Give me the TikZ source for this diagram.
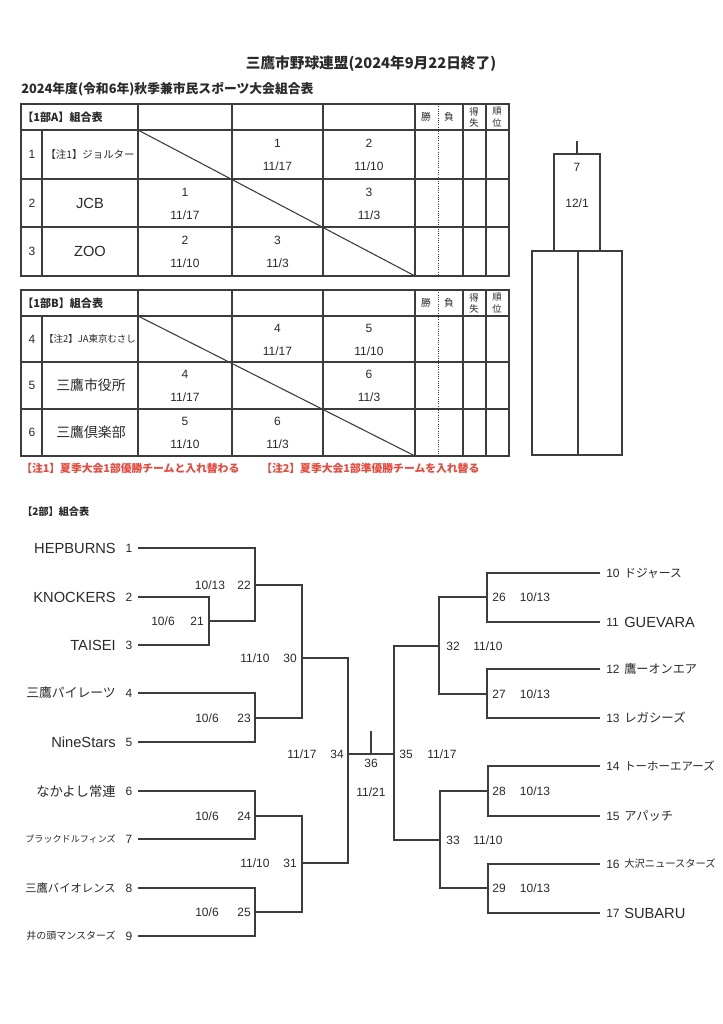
\documentclass[tikz,border=0pt]{standalone}
\usepackage{fontspec}
\setmainfont{Liberation Sans}
\newfontfamily\jp{Noto Sans CJK JP}
\newcommand\myfs[1]{\fontsize{#1}{#1}\selectfont}
\definecolor{ink}{HTML}{2A2A2A}
\definecolor{lnc}{HTML}{3C3C3C}
\definecolor{notered}{HTML}{E8493C}
\tikzset{
  lbl/.style={inner sep=0pt, text=ink},
  num/.style={lbl, font=\myfs{9}},
  jpt/.style={lbl, font=\jp\myfs{#1}},
  ent/.style={lbl, font=\myfs{11}},
  tb/.style={draw=lnc, line width=0.8pt},
  br/.style={draw=lnc, line width=0.9pt},
  hd/.style={lbl, font=\jp\bfseries\myfs{#1}},
}
\begin{document}
\begin{tikzpicture}[x=0.75pt,y=-0.75pt]
\fill[white] (0,0) rectangle (722,1024);
\useasboundingbox (0,0) rectangle (722,1024);

% titles
\node[hd=11] (title) at (371,64) {三鷹市野球連盟(2024年9月22日終了)};
\node[hd=9.6, anchor=west] (subtitle) at (21,89) {2024年度(令和6年)秋季兼市民スポーツ大会組合表};

% ===== Table A =====
\draw[tb] (21,104) rectangle (509,276);
\foreach \yy in {130,179,227} \draw[tb] (21,\yy) -- (509,\yy);
\draw[tb] (42,130) -- (42,276);
\foreach \xx in {138,232,323,415,463,486} \draw[tb] (\xx,104) -- (\xx,276);
\draw[lnc, line width=0.7pt, densely dotted] (438,104) -- (438,276);
\draw[tb] (138,130) -- (415,276);
\node[hd=8.3, anchor=west] (ahead) at (22,117) {【1部A】組合表};
\node[jpt=7.3] (awin) at (426,117) {勝};
\node[jpt=7.3] (alose) at (449,117) {負};
\node[jpt=7] (atok1) at (474,111.5) {得};
\node[jpt=7] (atok2) at (474,123) {失};
\node[jpt=7] (ajun1) at (497,111.5) {順};
\node[jpt=7] (ajun2) at (497,123) {位};
\node[num] (ar1) at (32,154.5) {1};
\node[num] (ar2) at (32,203) {2};
\node[num] (ar3) at (32,251.5) {3};
\node[jpt=7.8] (an1) at (90,154.5) {【注1】ジョルター};
\node[ent] (an2) at (90,203) {JCB};
\node[ent] (an3) at (90,251.5) {ZOO};
\node[num] (a12n) at (277.5,143) {1};  \node[num] (a12d) at (277.5,166) {11/17};
\node[num] (a13n) at (369,143) {2};    \node[num] (a13d) at (369,166) {11/10};
\node[num] (a21n) at (185,192) {1};    \node[num] (a21d) at (185,215) {11/17};
\node[num] (a23n) at (369,192) {3};    \node[num] (a23d) at (369,215) {11/3};
\node[num] (a31n) at (185,240) {2};    \node[num] (a31d) at (185,263) {11/10};
\node[num] (a32n) at (277.5,240) {3};  \node[num] (a32d) at (277.5,263) {11/3};

% ===== Table B =====
\draw[tb] (21,290) rectangle (509,456);
\foreach \yy in {316,362,409} \draw[tb] (21,\yy) -- (509,\yy);
\draw[tb] (42,316) -- (42,456);
\foreach \xx in {138,232,323,415,463,486} \draw[tb] (\xx,290) -- (\xx,456);
\draw[lnc, line width=0.7pt, densely dotted] (438,290) -- (438,456);
\draw[tb] (138,316) -- (415,456);
\node[hd=8.3, anchor=west] (bhead) at (22,303) {【1部B】組合表};
\node[jpt=7.3] (bwin) at (426,303) {勝};
\node[jpt=7.3] (blose) at (449,303) {負};
\node[jpt=7] (btok1) at (474,297.5) {得};
\node[jpt=7] (btok2) at (474,309) {失};
\node[jpt=7] (bjun1) at (497,297.5) {順};
\node[jpt=7] (bjun2) at (497,309) {位};
\node[num] (br1) at (32,339) {4};
\node[num] (br2) at (32,385.5) {5};
\node[num] (br3) at (32,432.5) {6};
\node[jpt=7.1] (bn1) at (90,339) {【注2】JA東京むさし};
\node[jpt=10.4] (bn2) at (91,385.5) {三鷹市役所};
\node[jpt=10.4] (bn3) at (91,432.5) {三鷹倶楽部};
\node[num] (b12n) at (277.5,328) {4};  \node[num] (b12d) at (277.5,351) {11/17};
\node[num] (b13n) at (369,328) {5};    \node[num] (b13d) at (369,351) {11/10};
\node[num] (b21n) at (185,374) {4};    \node[num] (b21d) at (185,397) {11/17};
\node[num] (b23n) at (369,374) {6};    \node[num] (b23d) at (369,397) {11/3};
\node[num] (b31n) at (185,421) {5};    \node[num] (b31d) at (185,444) {11/10};
\node[num] (b32n) at (277.5,421) {6};  \node[num] (b32d) at (277.5,444) {11/3};

% notes
\node[lbl, text=notered, font=\jp\bfseries\myfs{8.1}, anchor=west] (note1) at (21,468) {【注1】夏季大会1部優勝チームと入れ替わる};
\node[lbl, text=notered, font=\jp\bfseries\myfs{8.1}, anchor=west] (note2) at (261,468) {【注2】夏季大会1部準優勝チームを入れ替る};

% ===== final box (1部) =====
\coordinate (ftop) at (577,141);
\coordinate (fbox) at (577,154);
\draw[tb] (ftop) -- (fbox);
\draw[tb] (554,154) rectangle (600,251);
\draw[tb] (532,251) rectangle (622,455);
\draw[tb] (578,251) -- (578,455);
\node[num] (f7) at (577,167) {7};
\node[num] (fdate) at (577,203) {12/1};

% ===== 2部 =====
\node[hd=7.6, anchor=west] (sec2) at (22,512) {【2部】組合表};

% leaves left
\coordinate (t1) at (138,548);
\coordinate (t2) at (138,597);
\coordinate (t3) at (138,645);
\coordinate (t4) at (138,693);
\coordinate (t5) at (138,742);
\coordinate (t6) at (138,791);
\coordinate (t7) at (138,839);
\coordinate (t8) at (138,888);
\coordinate (t9) at (138,936);
% matches left
\coordinate (m21) at (209,621);
\coordinate (m22) at (255,585);
\coordinate (m23) at (255,718);
\coordinate (m24) at (255,816);
\coordinate (m25) at (255,912);
\coordinate (m30) at (302,658);
\coordinate (m31) at (302,863);
\coordinate (m34) at (348,754);
% leaves right
\coordinate (r10) at (600,573);
\coordinate (r11) at (600,622);
\coordinate (r12) at (600,669);
\coordinate (r13) at (600,718);
\coordinate (r14) at (600,766);
\coordinate (r15) at (600,816);
\coordinate (r16) at (600,864);
\coordinate (r17) at (600,913);
% matches right
\coordinate (m26) at (487,597);
\coordinate (m27) at (487,694);
\coordinate (m28) at (488,791);
\coordinate (m29) at (488,888);
\coordinate (m32) at (439,646);
\coordinate (m33) at (440,840);
\coordinate (m35) at (394,754);
\coordinate (m36) at (371,754);
\coordinate (m36top) at (371,731);

\draw[br] (t2) -| (m21) |- (t3);
\draw[br] (t1) -| (m22) |- (m21);
\draw[br] (t4) -| (m23) |- (t5);
\draw[br] (m22) -| (m30) |- (m23);
\draw[br] (t6) -| (m24) |- (t7);
\draw[br] (t8) -| (m25) |- (t9);
\draw[br] (m24) -| (m31) |- (m25);
\draw[br] (m30) -| (m34) |- (m31);
\draw[br] (r10) -| (m26) |- (r11);
\draw[br] (r12) -| (m27) |- (r13);
\draw[br] (m26) -| (m32) |- (m27);
\draw[br] (r14) -| (m28) |- (r15);
\draw[br] (r16) -| (m29) |- (r17);
\draw[br] (m28) -| (m33) |- (m29);
\draw[br] (m32) -| (m35) |- (m33);
\draw[br] (m34) -- (m35);
\draw[br] (m36) -- (m36top);

% left team names
\node[ent, anchor=east] (n1) at (116,548) {HEPBURNS};
\node[ent, anchor=east] (n2) at (116,597) {KNOCKERS};
\node[ent, anchor=east] (n3) at (116,645) {TAISEI};
\node[jpt=9.6, anchor=east] (n4) at (116,693) {三鷹パイレーツ};
\node[ent, anchor=east] (n5) at (116,742) {NineStars};
\node[jpt=10, anchor=east] (n6) at (116,791) {なかよし常連};
\node[jpt=6.8, anchor=east] (n7) at (116,839) {ブラックドルフィンズ};
\node[jpt=8.5, anchor=east] (n8) at (116,888) {三鷹バイオレンス};
\node[jpt=7.5, anchor=east] (n9) at (116,936) {井の頭マンスターズ};
\node[num] (k1) at (129,548) {1};
\node[num] (k2) at (129,597) {2};
\node[num] (k3) at (129,645) {3};
\node[num] (k4) at (129,693) {4};
\node[num] (k5) at (129,742) {5};
\node[num] (k6) at (129,791) {6};
\node[num] (k7) at (129,839) {7};
\node[num] (k8) at (129,888) {8};
\node[num] (k9) at (129,936) {9};

% right team names
\node[num, anchor=west] (k10) at (606,573) {10};
\node[num, anchor=west] (k11) at (606,622) {11};
\node[num, anchor=west] (k12) at (606,669) {12};
\node[num, anchor=west] (k13) at (606,718) {13};
\node[num, anchor=west] (k14) at (606,766) {14};
\node[num, anchor=west] (k15) at (606,816) {15};
\node[num, anchor=west] (k16) at (606,864) {16};
\node[num, anchor=west] (k17) at (606,913) {17};
\node[jpt=8.8, anchor=west] (n10) at (624,573) {ドジャース};
\node[ent, anchor=west] (n11) at (624,622) {GUEVARA};
\node[jpt=9.1, anchor=west] (n12) at (624,669) {鷹ーオンエア};
\node[jpt=9.3, anchor=west] (n13) at (624,718) {レガシーズ};
\node[jpt=8.6, anchor=west] (n14) at (624,766) {トーホーエアーズ};
\node[jpt=9.2, anchor=west] (n15) at (624,816) {アパッチ};
\node[jpt=7.7, anchor=west] (n16) at (624,864) {大沢ニュースターズ};
\node[ent, anchor=west] (n17) at (624,913) {SUBARU};

% match labels left
\node[num] (d21) at (163,621) {10/6};   \node[num] (g21) at (197,621) {21};
\node[num] (d22) at (210,585) {10/13};  \node[num] (g22) at (244,585) {22};
\node[num] (d23) at (207,718) {10/6};   \node[num] (g23) at (244,718) {23};
\node[num] (d24) at (207,816) {10/6};   \node[num] (g24) at (244,816) {24};
\node[num] (d25) at (207,912) {10/6};   \node[num] (g25) at (244,912) {25};
\node[num] (d30) at (255,658) {11/10};  \node[num] (g30) at (290,658) {30};
\node[num] (d31) at (255,863) {11/10};  \node[num] (g31) at (290,863) {31};
\node[num] (d34) at (302,754) {11/17};  \node[num] (g34) at (337,754) {34};
% match labels right
\node[num] (g26) at (499,597) {26};  \node[num] (d26) at (535,597) {10/13};
\node[num] (g27) at (499,694) {27};  \node[num] (d27) at (535,694) {10/13};
\node[num] (g28) at (499,791) {28};  \node[num] (d28) at (535,791) {10/13};
\node[num] (g29) at (499,888) {29};  \node[num] (d29) at (535,888) {10/13};
\node[num] (g32) at (453,646) {32};  \node[num] (d32) at (488,646) {11/10};
\node[num] (g33) at (453,840) {33};  \node[num] (d33) at (488,840) {11/10};
\node[num] (g35) at (406,754) {35};  \node[num] (d35) at (442,754) {11/17};
\node[num] (g36) at (371,763) {36};
\node[num] (d36) at (371,792) {11/21};
\end{tikzpicture}
\end{document}
